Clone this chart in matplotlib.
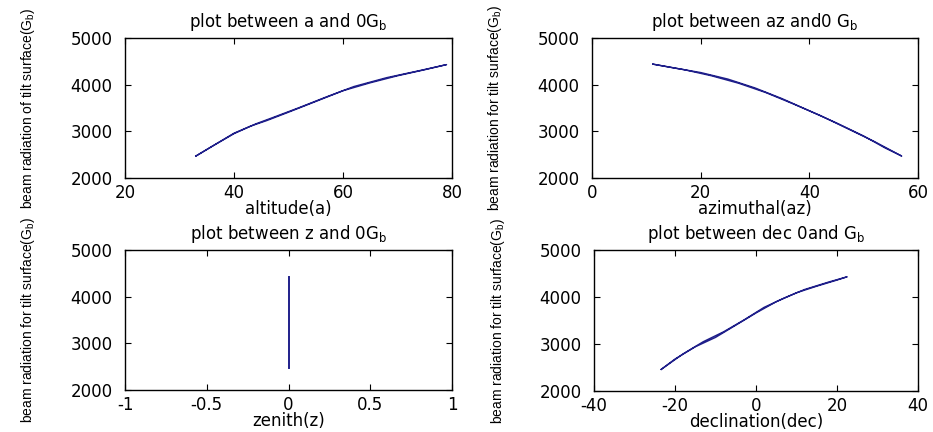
import matplotlib
matplotlib.use("Agg")
import matplotlib.pyplot as plt
from matplotlib.ticker import FixedLocator, FixedFormatter

plt.rcParams['axes.unicode_minus'] = False
plt.rcParams['font.family'] = ['DejaVu Sans']
plt.rcParams['mathtext.fontset'] = 'dejavusans'

# ---- data ----
alt_x = [33, 36, 40, 43, 46, 50, 55, 60, 65, 70, 75, 79,
         74, 68, 62, 57, 52, 47, 44, 40, 36, 33]
alt_y = [2470, 2680, 2960, 3110, 3230, 3410, 3640, 3870, 4040, 4190, 4320, 4430,
         4300, 4150, 3960, 3740, 3510, 3290, 3160, 2950, 2680, 2470]

az_x = [11.2, 15, 20, 25, 30, 35, 40, 45, 50, 54, 57,
        52, 47, 42, 37, 32, 27, 22, 17, 11.2]
az_y = [4440, 4360, 4260, 4120, 3930, 3700, 3440, 3180, 2900, 2640, 2470,
        2780, 3060, 3340, 3590, 3830, 4030, 4190, 4320, 4440]

zen_x = [0, 0]
zen_y = [2470, 4430]

dec_x = [-23.4, -20, -15, -10, -5, 0, 5, 10, 15, 20, 22.5,
         18, 12, 7, 2, -3, -8, -13, -18, -23.4]
dec_y = [2460, 2680, 2940, 3140, 3400, 3660, 3900, 4090, 4230, 4360, 4430,
         4320, 4160, 3980, 3780, 3510, 3260, 3050, 2790, 2460]

titles = [r"plot between a and 0G$_\mathregular{b}$",
          r"plot between az and0 G$_\mathregular{b}$",
          r"plot between z and 0G$_\mathregular{b}$",
          r"plot between dec 0and G$_\mathregular{b}$"]
xlabels = ["altitude(a)", "azimuthal(az)", "zenith(z)", "declination(dec)"]
ylabels = [r"beam radiation of tilt surface(G$_\mathregular{b}$)",
           r"beam radiation for tilt surface(G$_\mathregular{b}$)",
           r"beam radiation for tilt surface(G$_\mathregular{b}$)",
           r"beam radiation for tilt surface(G$_\mathregular{b}$)"]

xticks = [[20, 40, 60, 80], [0, 20, 40, 60], [-1, -0.5, 0, 0.5, 1], [-40, -20, 0, 20, 40]]
xticklabels = [["20", "40", "60", "80"], ["0", "20", "40", "60"],
               ["-1", "-0.5", "0", "0.5", "1"], ["-40", "-20", "0", "20", "40"]]
yticks = [2000, 3000, 4000, 5000]
yticklabels = ["2000", "3000", "4000", "5000"]

series = [(alt_x, alt_y), (az_x, az_y), (zen_x, zen_y), (dec_x, dec_y)]

# ---- layout ----
W, H = 933, 432
fig = plt.figure(figsize=(W / 100, H / 100), dpi=100)
boxes = [(125, 38, 452, 178), (592, 38, 918, 178),
         (125, 250, 452, 390), (594, 250, 918, 391)]

line_color = '#1f1f8a'

for i, (l, t, r, b) in enumerate(boxes):
    ax = fig.add_axes([l / W, (H - b) / H, (r - l) / W, (b - t) / H])
    x, y = series[i]
    ax.plot(x, y, color=line_color, lw=1.4 if i == 2 else 1.0)
    ax.set_xlim(xticks[i][0], xticks[i][-1])
    ax.set_ylim(2000, 5000)
    ax.xaxis.set_major_locator(FixedLocator(xticks[i]))
    ax.xaxis.set_major_formatter(FixedFormatter(xticklabels[i]))
    ax.yaxis.set_major_locator(FixedLocator(yticks))
    ax.yaxis.set_major_formatter(FixedFormatter(yticklabels))
    ax.tick_params(direction='in', top=True, right=True, length=4, width=0.8,
                   labelsize=12, colors='black')
    ax.tick_params(axis='x', pad=4)
    ax.tick_params(axis='y', pad=9)
    for s in ax.spines.values():
        s.set_linewidth(1.0)
        s.set_color('black')
    ax.set_title(titles[i], fontsize=12, pad=8)
    ax.set_xlabel(xlabels[i], fontsize=12, labelpad=-1)
    ax.set_ylabel(ylabels[i], fontsize=10,
                  family=['Liberation Sans', 'DejaVu Sans'])
    ax.yaxis.set_label_coords(-0.27, 0.5)

fig.savefig("out.png", dpi=100, facecolor='white')
